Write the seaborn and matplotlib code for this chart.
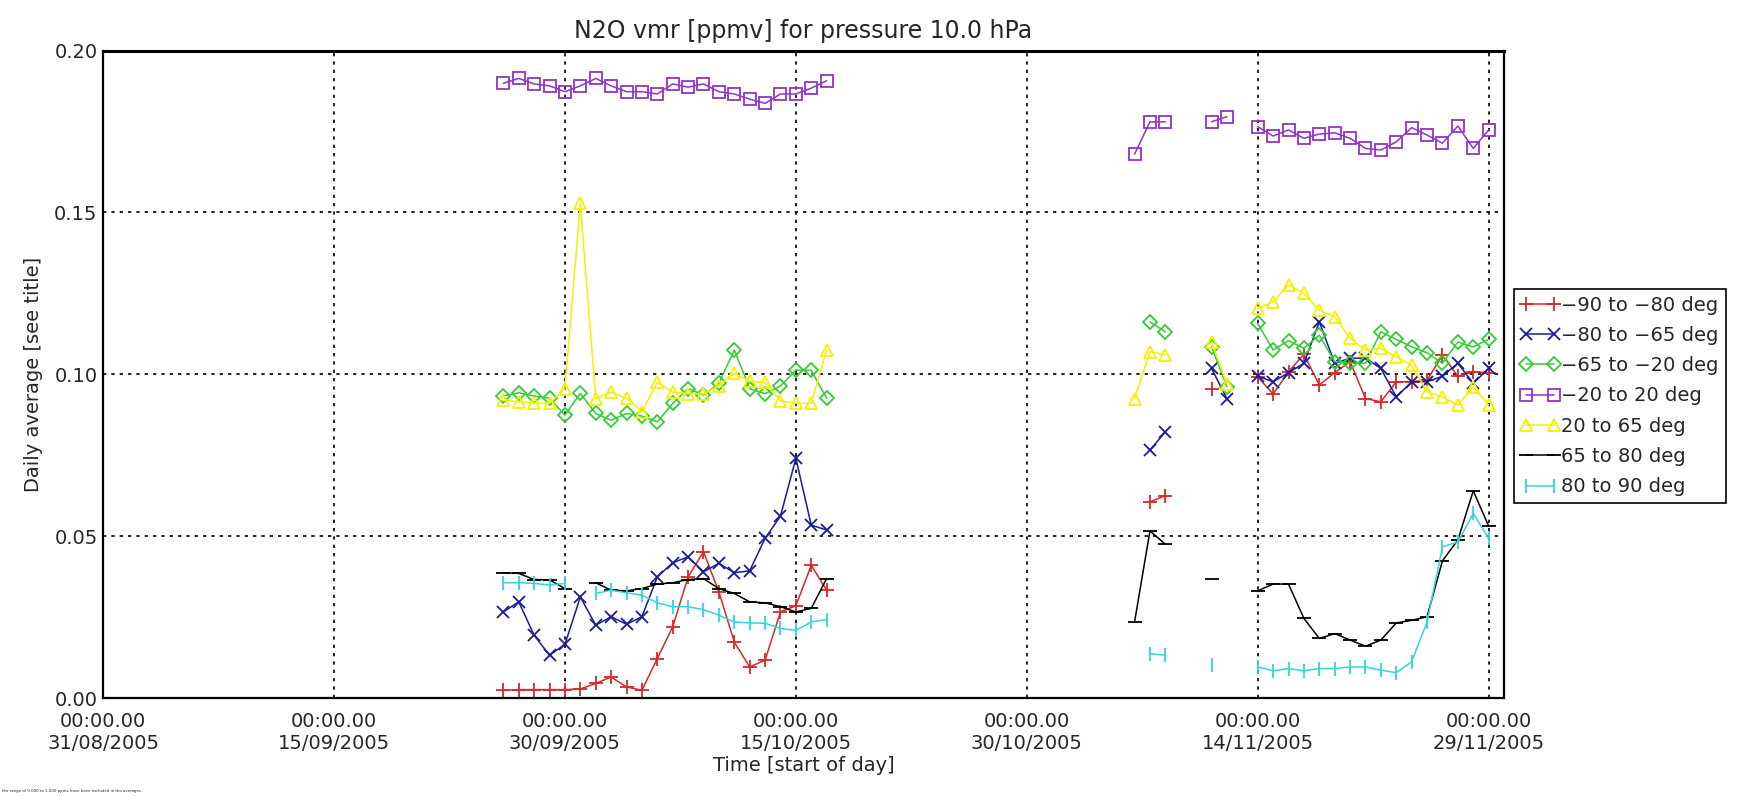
import numpy as np
import pandas as pd
import matplotlib
matplotlib.use('Agg')
import matplotlib.pyplot as plt
import matplotlib.dates as mdates
import seaborn as sns

nan = np.nan

# observation days: 26/09-17/10, then 06-08/11, 11-12/11, 14-29/11
days = (list(pd.date_range('2005-09-26', '2005-10-17'))
        + list(pd.to_datetime(['2005-11-06', '2005-11-07', '2005-11-08',
                               '2005-11-11', '2005-11-12']))
        + list(pd.date_range('2005-11-14', '2005-11-29')))

bands = ['\u221290 to \u221280 deg', '\u221280 to \u221265 deg', '\u221265 to \u221220 deg',
         '\u221220 to 20 deg', '20 to 65 deg', '65 to 80 deg', '80 to 90 deg']

s_90_80 = [0.0024, 0.0026, 0.0026, 0.0026, 0.0026, 0.0028, 0.0045, 0.0065, 0.0034, 0.0024, 0.0122,
           0.0220, 0.0374, 0.0452, 0.0328, 0.0173, 0.0096, 0.0117, 0.0266, 0.0285, 0.0410, 0.0333,
           nan, 0.0606, 0.0625, 0.0956, nan,
           0.0992, 0.0939, 0.1008, 0.1062, 0.0967, 0.1005, 0.1039, 0.0925, 0.0915, 0.0977, 0.0977,
           0.0982, 0.1059, 0.0994, 0.1008, 0.1005]
s_80_65 = [0.0266, 0.0297, 0.0194, 0.0132, 0.0166, 0.0312, 0.0225, 0.0251, 0.0228, 0.0251, 0.0374,
           0.0418, 0.0436, 0.0390, 0.0416, 0.0387, 0.0393, 0.0493, 0.0562, 0.0740, 0.0534, 0.0519,
           nan, 0.0766, 0.0822, 0.1018, 0.0925,
           0.0994, 0.0977, 0.1005, 0.1034, 0.1162, 0.1034, 0.1050, 0.1050, 0.1018, 0.0930, 0.0977,
           0.0977, 0.0994, 0.1034, 0.0972, 0.1018]
s_65_20 = [0.0933, 0.0943, 0.0933, 0.0926, 0.0874, 0.0941, 0.0879, 0.0858, 0.0879, 0.0871, 0.0853,
           0.0910, 0.0956, 0.0936, 0.0972, 0.1075, 0.0956, 0.0940, 0.0964, 0.1013, 0.1012, 0.0926,
           nan, 0.1162, 0.1131, 0.1085, 0.0961,
           0.1157, 0.1075, 0.1104, 0.1080, 0.1121, 0.1039, 0.1035, 0.1034, 0.1131, 0.1108, 0.1085,
           0.1066, 0.1034, 0.1100, 0.1085, 0.1108]
s_20_20 = [0.1899, 0.1914, 0.1897, 0.1891, 0.1873, 0.1891, 0.1914, 0.1891, 0.1873, 0.1873, 0.1866,
           0.1897, 0.1887, 0.1897, 0.1873, 0.1866, 0.1850, 0.1837, 0.1866, 0.1866, 0.1884, 0.1907,
           0.1680, 0.1780, 0.1780, 0.1780, 0.1796,
           0.1765, 0.1736, 0.1755, 0.1729, 0.1742, 0.1746, 0.1729, 0.1698, 0.1693, 0.1718, 0.1762,
           0.1739, 0.1714, 0.1767, 0.1698, 0.1755]
s_20_65 = [0.0920, 0.0915, 0.0912, 0.0910, 0.0956, 0.1528, 0.0925, 0.0945, 0.0926, 0.0885, 0.0975,
           0.0945, 0.0940, 0.0940, 0.0965, 0.1003, 0.0978, 0.0975, 0.0918, 0.0910, 0.0910, 0.1075,
           0.0925, 0.1070, 0.1060, 0.1100, 0.0970,
           0.1204, 0.1224, 0.1276, 0.1250, 0.1198, 0.1178, 0.1111, 0.1075, 0.1080, 0.1054, 0.1028,
           0.0946, 0.0930, 0.0905, 0.0961, 0.0905]
s_65_80 = [0.0387, 0.0385, 0.0366, 0.0365, 0.0338, nan, 0.0356, 0.0333, 0.0331, 0.0338, 0.0352,
           0.0356, 0.0366, 0.0369, 0.0338, 0.0323, 0.0297, 0.0294, 0.0282, 0.0266, 0.0277, 0.0369,
           0.0235, 0.0516, 0.0475, 0.0369, nan,
           0.0331, 0.0352, 0.0352, 0.0246, 0.0184, 0.0199, 0.0179, 0.0160, 0.0179, 0.0232, 0.0240,
           0.0251, 0.0424, 0.0488, 0.0640, 0.0531]
s_80_90 = [0.0356, 0.0356, 0.0354, 0.0349, 0.0354, nan, 0.0323, 0.0333, 0.0325, 0.0318, 0.0294,
           0.0282, 0.0282, 0.0273, 0.0256, 0.0235, 0.0232, 0.0231, 0.0215, 0.0209, 0.0235, 0.0242,
           nan, 0.0137, 0.0132, 0.0101, nan,
           0.0096, 0.0084, 0.0091, 0.0084, 0.0091, 0.0091, 0.0096, 0.0096, 0.0086, 0.0078, 0.0112,
           0.0235, 0.0467, 0.0482, 0.0570, 0.0493]

series = [s_90_80, s_80_65, s_65_20, s_20_20, s_20_65, s_65_80, s_80_90]

# colour, marker, marker size, open marker
styles = [('#d62828', '+', 10, False),
          ('#1a1a9a', 'x', 9, False),
          ('#33cc33', 'D', 7, True),
          ('#9233c8', 's', 9, True),
          ('#f2f200', '^', 9, True),
          ('#000000', '_', 10, False),
          ('#33d6d6', '|', 10, False)]

# long table, with a segment id so that gaps in the record are not bridged
rows = []
for band, vals in zip(bands, series):
    seg = 0
    prev = None
    for d, v in zip(days, vals):
        if np.isnan(v):
            prev = None
            continue
        if prev is None or (d - prev).days > 1:
            seg += 1
        rows.append({'date': d, 'value': v, 'band': band, 'segment': band + str(seg)})
        prev = d
df = pd.DataFrame(rows)

sns.set_style('white')
plt.rcParams['font.family'] = ['DejaVu Sans']

fig = plt.figure(figsize=(17.62, 7.98), dpi=100)
ax = fig.add_axes([0.0585, 0.1253, 0.7951, 0.8113])

for band, (col, mk, ms, hollow) in zip(bands, styles):
    sub = df[df.band == band]
    sns.lineplot(data=sub, x='date', y='value', units='segment', estimator=None,
                 color=col, marker=mk, markersize=ms, mec=col, mew=1.3,
                 mfc='none' if hollow else col, lw=1.1, label=band,
                 legend=False, ax=ax, sort=True)

ax.set_xlim(pd.Timestamp('2005-08-31'), pd.Timestamp('2005-11-30'))
ax.set_ylim(0, 0.2)
ax.set_yticks([0.0, 0.05, 0.10, 0.15, 0.20])
ax.set_yticklabels(['0.00', '0.05', '0.10', '0.15', '0.20'])
xt = pd.date_range('2005-08-31', periods=7, freq='15D')
ax.set_xticks(xt)
ax.set_xticklabels(['00:00.00\n' + t.strftime('%d/%m/%Y') for t in xt])

ax.grid(True, color='black', linestyle=(0, (2, 3)), linewidth=1.2)
ax.tick_params(length=0, labelsize=14)
ax.tick_params(axis='x', pad=10)
ax.tick_params(axis='y', pad=4)
for sp in ax.spines.values():
    sp.set_color('black')
    sp.set_linewidth(1.6)
ax.spines['top'].set_linewidth(2.2)

ax.set_title('N2O vmr [ppmv] for pressure 10.0 hPa', fontsize=17, pad=9)
ax.set_xlabel('Time [start of day]', fontsize=14, labelpad=2)
ax.set_ylabel('Daily average [see title]', fontsize=14, labelpad=8)

handles, labels = ax.get_legend_handles_labels()
uniq = dict(zip(labels, handles))
leg = ax.legend([uniq[b] for b in bands], bands, loc='upper left',
                bbox_to_anchor=(1.007, 0.632), borderaxespad=0, fontsize=14,
                frameon=True, fancybox=False, edgecolor='black', framealpha=1,
                handlelength=2.0, handletextpad=0.1, labelspacing=0.58,
                borderpad=0.35, numpoints=2)
leg.get_frame().set_linewidth(1.2)

fig.text(0.001, 0.006, 'the range of 0.000 to 1.000 ppmv have been excluded in the averages.',
         fontsize=2.8, ha='left', va='bottom')

fig.savefig('out.png', dpi=100)
